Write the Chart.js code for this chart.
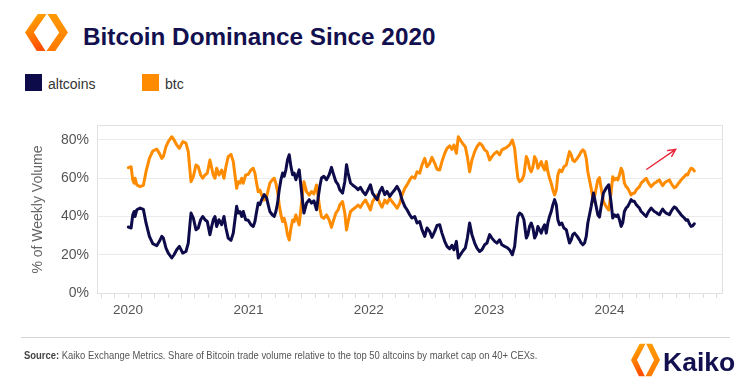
<!DOCTYPE html>
<html>
<head>
<meta charset="utf-8">
<script src="https://cdn.jsdelivr.net/npm/chart.js@4.4.1/dist/chart.umd.min.js"></script>
<style>
  html, body { margin:0; padding:0; background:#fff; width:744px; height:382px; overflow:hidden;
    font-family:"Liberation Sans", Arial, Helvetica, sans-serif; }
  #wrap { position:relative; width:744px; height:382px; }
  #chart { position:absolute; left:0; top:0; }
  .logo { position:absolute; }
  .title { position:absolute; left:83px; top:22.5px; font-size:24.3px; line-height:28px; font-weight:bold;
    color:#13104f; white-space:nowrap; }
  .lg-box { position:absolute; top:74px; width:17px; height:17px; }
  .lg-text { position:absolute; top:75.5px; font-size:14px; line-height:16px; color:#333; white-space:nowrap; }
  .rule { position:absolute; left:21px; top:337px; width:709px; height:1px; background:#d4d4d4; }
  .source { position:absolute; left:24px; top:349px; font-size:10.6px; line-height:13px; color:#555; white-space:nowrap;
    transform:scaleX(0.89); transform-origin:0 0; }
  .source b { color:#444; }
  .kaiko { position:absolute; left:663px; top:347px; font-size:26.5px; line-height:30px; font-weight:bold; color:#13104f; }
</style>
</head>
<body>
<div id="wrap">
  <svg class="logo" style="left:25px;top:13px" width="43" height="39" viewBox="0 0 44 40">
    <defs>
      <linearGradient id="g1" x1="0" y1="0" x2="0.3" y2="1">
        <stop offset="0" stop-color="#ffb300"/>
        <stop offset="1" stop-color="#ff5200"/>
      </linearGradient>
      <linearGradient id="g2" x1="0" y1="0" x2="0" y2="1">
        <stop offset="0" stop-color="#ff9a00"/>
        <stop offset="1" stop-color="#ff7a00"/>
      </linearGradient>
    </defs>
    <polygon points="13,1 22,1 9,20 21,39 12,39 0,20" fill="url(#g1)"/>
    <polygon points="23,1 32,1 44,20 31,39 22,39 35,20" fill="url(#g2)"/>
  </svg>
  <div class="title">Bitcoin Dominance Since 2020</div>

  <div class="lg-box" style="left:25px;background:#0e0b4b"></div>
  <div class="lg-text" style="left:48px">altcoins</div>
  <div class="lg-box" style="left:142px;background:#ff8c00"></div>
  <div class="lg-text" style="left:165px">btc</div>

  <canvas id="chart" width="744" height="382"></canvas>

  <div class="rule"></div>
  <div class="source"><b>Source:</b> Kaiko Exchange Metrics. Share of Bitcoin trade volume relative to the top 50 altcoins by market cap on 40+ CEXs.</div>
  <svg class="logo" style="left:631px;top:343px" width="29" height="34" viewBox="0 0 44 40" preserveAspectRatio="none">
    <polygon points="13,1 22,1 9,20 21,39 12,39 0,20" fill="url(#g1)"/>
    <polygon points="23,1 32,1 44,20 31,39 22,39 35,20" fill="url(#g2)"/>
  </svg>
  <div class="kaiko">Kaiko</div>
</div>

<script>
// ---- data ----
const seriesNames = ['altcoins', 'btc'];
const yearTicks = [2020, 2021, 2022, 2023, 2024];
const yTickValues = [0, 20, 40, 60, 80];

// x position of each weekly observation, as a decimal year
const weekYear = [
  2020.002,2020.025,2020.039,2020.050,2020.058,2020.072,2020.100,2020.127,2020.149,2020.177,
  2020.205,2020.238,2020.260,2020.280,2020.293,2020.315,2020.334,2020.363,2020.382,2020.404,
  2020.426,2020.454,2020.481,2020.500,2020.515,2020.523,2020.542,2020.564,2020.583,2020.603,
  2020.620,2020.639,2020.658,2020.680,2020.695,2020.708,2020.722,2020.736,2020.755,2020.778,
  2020.797,2020.813,2020.832,2020.855,2020.874,2020.888,2020.902,2020.915,
  2020.929,2020.944,2020.957,2020.977,2020.998,2021.021,2021.040,2021.054,2021.068,2021.081,
  2021.095,2021.110,2021.131,2021.151,2021.164,2021.178,2021.198,2021.214,2021.228,2021.242,
  2021.256,2021.270,2021.284,2021.297,2021.311,2021.325,2021.339,2021.353,2021.367,2021.380,
  2021.394,2021.408,2021.422,
  2021.441,2021.461,2021.483,2021.505,2021.524,2021.544,2021.566,2021.579,2021.593,2021.607,
  2021.627,2021.649,2021.671,2021.690,2021.704,2021.726,2021.745,2021.759,2021.782,2021.801,
  2021.815,2021.828,2021.848,2021.870,2021.892,2021.911,2021.931,2021.953,2021.973,2021.994,
  2022.014,2022.031,2022.050,2022.069,2022.091,2022.110,2022.133,2022.152,2022.174,2022.193,
  2022.216,2022.235,2022.257,2022.276,2022.299,2022.318,2022.340,2022.359,2022.382,2022.401,
  2022.423,2022.442,2022.465,2022.484,2022.506,2022.525,2022.548,2022.567,2022.589,2022.608,
  2022.631,2022.650,2022.672,2022.691,2022.708,2022.728,2022.744,2022.761,2022.783,2022.802,
  2022.819,2022.838,2022.857,2022.880,2022.899,2022.921,2022.940,2022.963,2022.982,2023.004,
  2023.023,2023.046,2023.065,2023.087,2023.106,2023.129,2023.148,2023.170,2023.193,2023.212,
  2023.226,2023.239,2023.253,2023.272,2023.289,2023.309,2023.322,2023.336,2023.350,2023.364,
  2023.378,2023.392,2023.405,2023.419,2023.433,2023.447,2023.461,2023.475,2023.488,2023.502,
  2023.516,2023.530,2023.544,2023.558,2023.571,2023.585,2023.604,2023.621,2023.641,2023.654,
  2023.668,2023.682,2023.695,2023.710,2023.732,2023.751,2023.765,2023.779,2023.793,2023.807,
  2023.820,2023.834,2023.848,2023.867,2023.884,2023.903,2023.917,2023.931,2023.950,2023.973,
  2023.994,2024.014,2024.027,2024.041,2024.056,2024.069,2024.083,2024.097,2024.110,2024.124,
  2024.138,2024.152,2024.166,2024.180,2024.193,2024.207,2024.222,2024.235,2024.249,2024.263,
  2024.276,2024.290,2024.305,2024.318,2024.332,2024.346,2024.359,2024.373,2024.388,2024.401,
  2024.415,2024.429,2024.442,2024.456,2024.471,2024.484,2024.498,2024.512,2024.525,2024.539,
  2024.554,2024.567,2024.581,2024.595,2024.608,2024.622,2024.637,2024.650,2024.664,2024.678,
  2024.691,2024.705
];

// share of weekly volume, %
const btcShare = [
  65.5,66.0,59.1,57.4,60.0,56.5,55.6,56.3,63.4,70.4,
  74.2,75.3,73.0,70.4,71.3,76.5,79.1,81.7,80.0,77.4,
  75.6,79.1,78.3,73.9,63.4,58.2,60.8,66.9,66.0,61.7,
  60.0,61.7,62.6,69.5,65.2,61.7,60.0,65.2,61.7,64.3,
  60.0,66.0,71.3,72.5,68.7,61.7,54.7,58.2,
  57.4,60.0,57.4,61.7,62.0,64.3,65.2,62.6,57.4,53.0,
  53.8,51.2,48.6,50.3,53.8,57.4,59.1,60.0,57.4,53.0,
  46.0,40.8,37.3,39.0,35.6,30.3,27.7,33.8,38.2,37.3,
  40.8,38.2,35.6,
  46.9,58.2,53.0,51.2,53.0,51.8,56.5,50.4,44.3,39.9,
  39.0,40.8,38.2,34.3,37.3,41.7,43.4,46.0,47.8,41.7,
  32.9,37.3,42.5,43.8,44.8,46.0,44.8,47.2,48.6,46.0,
  43.4,47.8,49.5,51.2,46.9,44.8,48.6,46.9,49.5,47.8,
  46.0,44.3,46.9,51.2,54.7,56.5,59.1,60.8,60.0,63.4,
  62.6,66.9,70.4,66.0,67.8,70.9,67.8,64.7,64.3,68.7,
  73.0,75.6,76.9,75.1,77.4,73.0,81.7,80.0,77.9,76.5,
  71.3,63.4,69.5,73.9,76.5,78.3,77.4,74.8,73.9,69.5,
  71.3,73.0,73.9,72.2,74.8,75.6,76.2,77.4,80.0,75.6,
  66.9,60.0,58.2,59.1,61.7,71.3,69.5,65.2,63.4,66.0,
  71.3,69.5,65.2,66.9,68.7,66.0,64.3,68.7,63.4,60.0,
  57.4,53.8,51.2,53.8,61.7,64.3,63.4,66.0,66.9,70.4,
  73.9,72.2,69.5,68.7,70.4,72.2,73.9,74.8,73.9,70.4,
  63.4,59.1,54.7,47.7,53.0,59.1,60.3,54.7,47.7,45.1,
  43.4,53.0,60.8,59.1,60.0,59.1,61.7,65.2,63.4,57.4,
  55.6,54.7,53.0,51.2,52.1,52.1,53.8,54.7,55.6,57.4,
  58.2,59.1,60.0,58.2,56.8,55.6,56.5,57.4,57.9,58.6,
  59.1,57.4,56.1,57.4,58.2,58.6,59.1,57.4,56.1,55.0,
  55.6,56.8,57.9,59.1,60.0,60.8,62.0,61.7,63.8,65.2,
  64.9,63.8
];

const altShare = [
  34.5,34.0,40.9,42.6,40.0,43.5,44.4,43.7,36.6,29.6,
  25.8,24.7,27.0,29.6,28.7,23.5,20.9,18.3,20.0,22.6,
  24.4,20.9,21.7,26.1,36.6,41.8,39.2,33.1,34.0,38.3,
  40.0,38.3,37.4,30.5,34.8,38.3,40.0,34.8,38.3,35.7,
  40.0,34.0,28.7,27.5,31.3,38.3,45.3,41.8,
  42.6,40.0,42.6,38.3,38.0,35.7,34.8,37.4,42.6,47.0,
  46.2,48.8,51.4,49.7,46.2,42.6,40.9,40.0,42.6,47.0,
  54.0,59.2,62.7,61.0,64.4,69.7,72.3,66.2,61.8,62.7,
  59.2,61.8,64.4,
  53.1,41.8,47.0,48.8,47.0,48.2,43.5,49.6,55.7,60.1,
  61.0,59.2,61.8,65.7,62.7,58.3,56.6,54.0,52.2,58.3,
  67.1,62.7,57.5,56.2,55.2,54.0,55.2,52.8,51.4,54.0,
  56.6,52.2,50.5,48.8,53.1,55.2,51.4,53.1,50.5,52.2,
  54.0,55.7,53.1,48.8,45.3,43.5,40.9,39.2,40.0,36.6,
  37.4,33.1,29.6,34.0,32.2,29.1,32.2,35.3,35.7,31.3,
  27.0,24.4,23.1,24.9,22.6,27.0,18.3,20.0,22.1,23.5,
  28.7,36.6,30.5,26.1,23.5,21.7,22.6,25.2,26.1,30.5,
  28.7,27.0,26.1,27.8,25.2,24.4,23.8,22.6,20.0,24.4,
  33.1,40.0,41.8,40.9,38.3,28.7,30.5,34.8,36.6,34.0,
  28.7,30.5,34.8,33.1,31.3,34.0,35.7,31.3,36.6,40.0,
  42.6,46.2,48.8,46.2,38.3,35.7,36.6,34.0,33.1,29.6,
  26.1,27.8,30.5,31.3,29.6,27.8,26.1,25.2,26.1,29.6,
  36.6,40.9,45.3,52.3,47.0,40.9,39.7,45.3,52.3,54.9,
  56.6,47.0,39.2,40.9,40.0,40.9,38.3,34.8,36.6,42.6,
  44.4,45.3,47.0,48.8,47.9,47.9,46.2,45.3,44.4,42.6,
  41.8,40.9,40.0,41.8,43.2,44.4,43.5,42.6,42.1,41.4,
  40.9,42.6,43.9,42.6,41.8,41.4,40.9,42.6,43.9,45.0,
  44.4,43.2,42.1,40.9,40.0,39.2,38.0,38.3,36.2,34.8,
  35.1,36.2
];

// annotation arrow (data coordinates: year, %)
const arrowFrom = { x: 2024.31, y: 64.7 };
const arrowTo   = { x: 2024.55, y: 75.1 };

// ---- styling ----
const FONT = '"Liberation Sans", Arial, Helvetica, sans-serif';
const NAVY = '#0e0b4b';
const ORANGE = '#ff8c00';

const framePlugin = {
  id: 'frame',
  beforeDatasetsDraw(chart) {
    const a = chart.chartArea, c = chart.ctx;
    c.save();
    c.strokeStyle = '#e2e2e2';
    c.lineWidth = 1;
    c.strokeRect(Math.round(a.left) - 0.5, Math.round(a.top) - 0.5,
                 Math.round(a.right - a.left) + 1, Math.round(a.bottom - a.top) + 1);
    c.restore();
  }
};

const arrowPlugin = {
  id: 'arrow',
  afterDatasetsDraw(chart) {
    const xs = chart.scales.x, ys = chart.scales.y, c = chart.ctx;
    const x1 = xs.getPixelForValue(arrowFrom.x), y1 = ys.getPixelForValue(arrowFrom.y);
    const x2 = xs.getPixelForValue(arrowTo.x), y2 = ys.getPixelForValue(arrowTo.y);
    const ang = Math.atan2(y2 - y1, x2 - x1), h = 8;
    c.save();
    c.strokeStyle = '#e8253a';
    c.lineWidth = 1.4;
    c.lineCap = 'round';
    c.beginPath();
    c.moveTo(x1, y1); c.lineTo(x2, y2);
    c.moveTo(x2 - h * Math.cos(ang - 0.45), y2 - h * Math.sin(ang - 0.45));
    c.lineTo(x2, y2);
    c.lineTo(x2 - h * Math.cos(ang + 0.45), y2 - h * Math.sin(ang + 0.45));
    c.stroke();
    c.restore();
  }
};

new Chart(document.getElementById('chart').getContext('2d'), {
  type: 'line',
  data: {
    datasets: [
      { label: seriesNames[0], data: weekYear.map((x, i) => ({ x, y: altShare[i] })),
        borderColor: NAVY, borderWidth: 3, pointRadius: 0, tension: 0,
        borderJoinStyle: 'round', borderCapStyle: 'round', fill: false },
      { label: seriesNames[1], data: weekYear.map((x, i) => ({ x, y: btcShare[i] })),
        borderColor: ORANGE, borderWidth: 3, pointRadius: 0, tension: 0,
        borderJoinStyle: 'round', borderCapStyle: 'round', fill: false }
    ]
  },
  options: {
    responsive: false,
    animation: false,
    devicePixelRatio: 1,
    layout: { padding: { left: 0, top: 126, right: 22, bottom: 0 } },
    plugins: { legend: { display: false }, tooltip: { enabled: false } },
    scales: {
      x: {
        type: 'linear', min: 2019.75, max: 2024.935,
        afterBuildTicks(s) {
          const t = [];
          for (let k = Math.ceil((s.min - 2020) * 9); 2020 + k / 9 <= s.max + 1e-9; k++) t.push({ value: 2020 + k / 9 });
          s.ticks = t;
        },
        afterFit(s) { s.height = 89; },
        ticks: {
          autoSkip: false, maxRotation: 0, minRotation: 0, padding: 4,
          color: '#555', font: { size: 13.5, family: FONT },
          callback: (v) => { const r = Math.round(v); return (Math.abs(v - r) < 1e-6 && yearTicks.includes(r)) ? String(r) : ''; }
        },
        grid: { drawOnChartArea: false, drawTicks: true, tickLength: 5, color: '#dcdcdc' },
        border: { display: false }
      },
      y: {
        min: 0, max: 87.3,
        afterBuildTicks(s) { s.ticks = yTickValues.map(v => ({ value: v })); },
        afterFit(s) { s.width = 98; },
        ticks: { color: '#555', font: { size: 14, family: FONT }, padding: 9, callback: (v) => v + '%' },
        grid: { color: '#ebebeb', drawTicks: false, lineWidth: 1 },
        border: { display: false },
        title: { display: true, text: '% of Weekly Volume', color: '#666',
                 font: { size: 14, family: FONT }, padding: { top: 30, bottom: 0 } }
      }
    }
  },
  plugins: [framePlugin, arrowPlugin]
});
</script>
</body>
</html>
